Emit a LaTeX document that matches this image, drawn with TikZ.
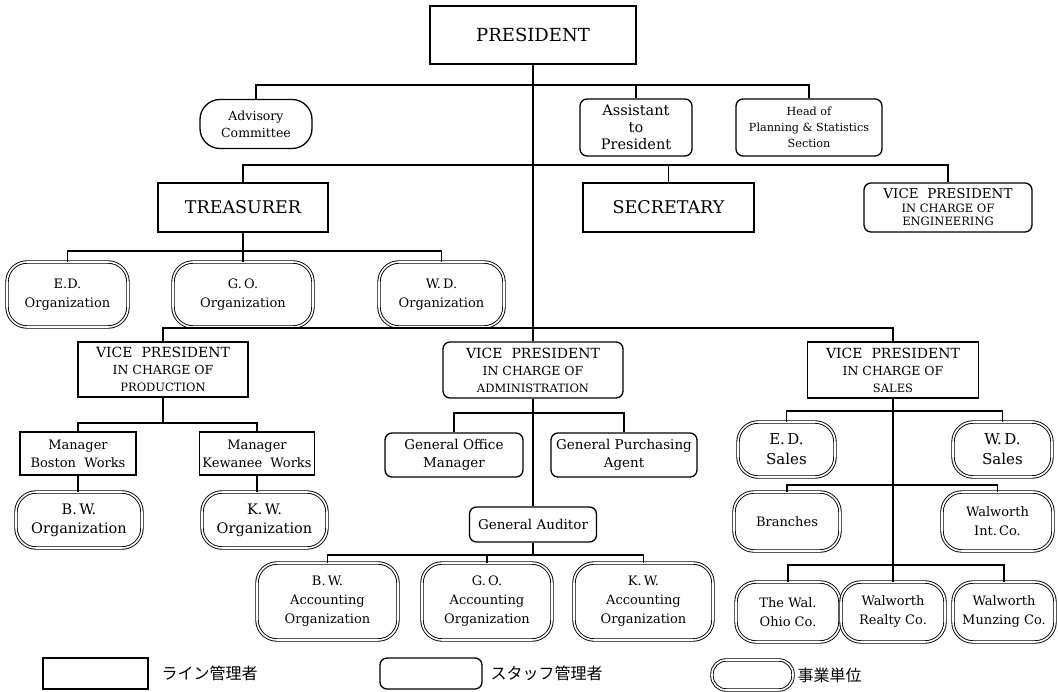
\documentclass[tikz,border=0pt]{standalone}
\usepackage{fontspec}
\setmainfont{DejaVu Serif}
\newfontfamily\jpfont{Noto Sans CJK JP}
\newcommand{\fsz}[2]{\fontsize{#1}{#2}\selectfont}

\begin{document}
\begin{tikzpicture}[x=1pt,y=-1pt,line width=1.1pt,
    box/.style 2 args={minimum width=#1pt,minimum height=#2pt},
    line node/.style={draw,rectangle,inner sep=0pt,align=center,line width=1.3pt},
    staff node/.style={line node,rounded corners=7pt},
    unit node/.style={draw,double,double distance=1.6pt,line width=0.9pt,
      rounded corners=20pt,inner sep=0pt,align=center,font=\fsz{13}{19}},
    vp/.style={font=\fsz{12.5}{17}},
    legend text/.style={anchor=west,inner sep=0pt,font=\jpfont\fsz{16}{18}}]

  \useasboundingbox (0,0) rectangle (1058,692);

  % top levels
  \node[line node,box={206}{58},font=\fsz{18}{22}] (pres) at (533,35) {PRESIDENT};
  \node[staff node,box={112}{49},rounded corners=20pt,font=\fsz{12.5}{17}] (adv) at (256,124) {Advisory\\Committee};
  \node[staff node,box={112}{57},font=\fsz{14.5}{17}] (asst) at (636,127.5) {Assistant\\to\\President};
  \node[staff node,box={146}{57},font=\fsz{11.2}{16}] (plan) at (809,127.5) {Head of\\Planning \& Statistics\\Section};

  \node[line node,box={170}{49},font=\fsz{17.5}{22}] (treas) at (243,207.5) {TREASURER};
  \node[line node,box={171}{49},font=\fsz{17.5}{22}] (sec) at (668.5,207.5) {SECRETARY};
  \node[staff node,box={168}{49},font=\fsz{11.5}{13.5}] (vpeng) at (948,207.5) {\fsz{13.5}{13.5}VICE\ \ PRESIDENT\\\fsz{11.5}{13.5}IN CHARGE OF\\ENGINEERING};

  \node[unit node,box={121}{65}] (edorg) at (67.5,294.5) {E.D.\\Organization};
  \node[unit node,box={140}{65}] (goorg) at (243,294.5) {G.\,O.\\Organization};
  \node[unit node,box={125}{65}] (wdorg) at (441.5,294.5) {W.\,D.\\Organization};

  % vice presidents
  \node[line node,box={170}{55},vp] (vpprod) at (163,369.5) {\fsz{14}{18}VICE\ \ PRESIDENT\\\fsz{12.5}{17}IN CHARGE OF\\\fsz{11.5}{17}PRODUCTION};
  \node[staff node,box={180}{56},vp] (vpadm) at (533,370) {\fsz{14}{18}VICE\ \ PRESIDENT\\\fsz{12.5}{17}IN CHARGE OF\\\fsz{11.5}{17}ADMINISTRATION};
  \node[line node,box={171}{56},vp] (vpsales) at (893,370) {\fsz{14}{18}VICE\ \ PRESIDENT\\\fsz{12.5}{17}IN CHARGE OF\\\fsz{11.5}{17}SALES};

  % production
  \node[line node,box={116}{43},font=\fsz{13}{18}] (mbw) at (78,453.5) {Manager\\Boston\ \ Works};
  \node[line node,box={115}{43},font=\fsz{13}{18}] (mkw) at (257,453.5) {Manager\\Kewanee\ \ Works};
  \node[unit node,box={126}{56},font=\fsz{14.5}{19}] (bworg) at (79,520) {B.\,W.\\Organization};
  \node[unit node,box={125}{56},font=\fsz{14.5}{19}] (kworg) at (264.5,520) {K.\,W.\\Organization};

  % administration
  \node[staff node,box={138}{44},font=\fsz{13.5}{18}] (gom) at (454,455) {General Office\\Manager};
  \node[staff node,box={146}{44},font=\fsz{13.5}{18}] (gpa) at (624,455) {General Purchasing\\Agent};
  \node[staff node,box={127}{35},font=\fsz{13.5}{18}] (gaud) at (533,524.5) {General Auditor};
  \node[unit node,box={141}{77}] (bwacc) at (327.5,601.5) {B.\,W.\\Accounting\\Organization};
  \node[unit node,box={130}{77}] (goacc) at (487,601.5) {G.\,O.\\Accounting\\Organization};
  \node[unit node,box={139}{77}] (kwacc) at (643.5,601.5) {K.\,W.\\Accounting\\Organization};

  % sales
  \node[unit node,box={97}{55},font=\fsz{15}{20}] (edsales) at (786.5,449.5) {E.\,D.\\Sales};
  \node[unit node,box={99}{55},font=\fsz{15}{20}] (wdsales) at (1002.5,449.5) {W.\,D.\\Sales};
  \node[unit node,box={106}{59}] (branches) at (787,521.5) {Branches};
  \node[unit node,box={111}{59}] (walint) at (997.5,521.5) {Walworth\\Int.\,Co.};
  \node[unit node,box={104}{60}] (ohio) at (788,612) {The Wal.\\Ohio Co.};
  \node[unit node,box={104}{60}] (realty) at (893,612) {Walworth\\Realty Co.};
  \node[unit node,box={102}{60}] (munzing) at (1004,612) {Walworth\\Munzing Co.};

  % bus lines
  \coordinate (b1) at (533,85);
  \coordinate (b2) at (533,165);
  \coordinate (b3) at (243,251);
  \coordinate (b4) at (533,328);
  \coordinate (b5) at (163,423);
  \coordinate (b6) at (533,413);
  \coordinate (b7) at (533,555);
  \coordinate (b8) at (893,411);
  \coordinate (b9) at (893,485);
  \coordinate (b10) at (893,565);

  \draw (pres.south) -- (vpadm.north);
  \draw (vpadm.south) -- (gaud.north);
  \draw (adv.north) |- (b1) -| (plan.north);
  \draw (asst.north) -- (asst.north |- b1);
  \draw (treas.north) |- (b2) -| (vpeng.north);
  \draw (sec.north) -- (sec.north |- b2);
  \draw (treas.south) -- (goorg.north);
  \draw (edorg.north) |- (b3) -| (wdorg.north);
  \draw (vpprod.north) |- (b4) -| (vpsales.north);
  \draw (vpprod.south) -- (b5);
  \draw (mbw.north) |- (b5) -| (mkw.north);
  \draw (mbw.south) -- (mbw.south |- bworg.north);
  \draw (mkw.south) -- (mkw.south |- kworg.north);
  \draw (gom.north) |- (b6) -| (gpa.north);
  \draw (gaud.south) -- (b7);
  \draw (bwacc.north) |- (b7) -| (kwacc.north);
  \draw (goacc.north) -- (goacc.north |- b7);
  \draw (vpsales.south) -- (realty.north);
  \draw (edsales.north) |- (b8) -| (wdsales.north);
  \draw (branches.north) |- (b9) -| (walint.north);
  \draw (ohio.north) |- (b10) -| (munzing.north);

  % legend
  \node[line node,box={105}{31}] (lgline) at (95.5,673.5) {};
  \node[legend text] (lglinetxt) at (161,673.5) {ライン管理者};
  \node[staff node,box={102}{31}] (lgstaff) at (431,673.5) {};
  \node[legend text] (lgstafftxt) at (490,673.5) {スタッフ管理者};
  \node[unit node,box={81}{30},rounded corners=14pt] (lgunit) at (752.5,675) {};
  \node[legend text] (lgunittxt) at (797,675) {事業単位};

\end{tikzpicture}
\end{document}
